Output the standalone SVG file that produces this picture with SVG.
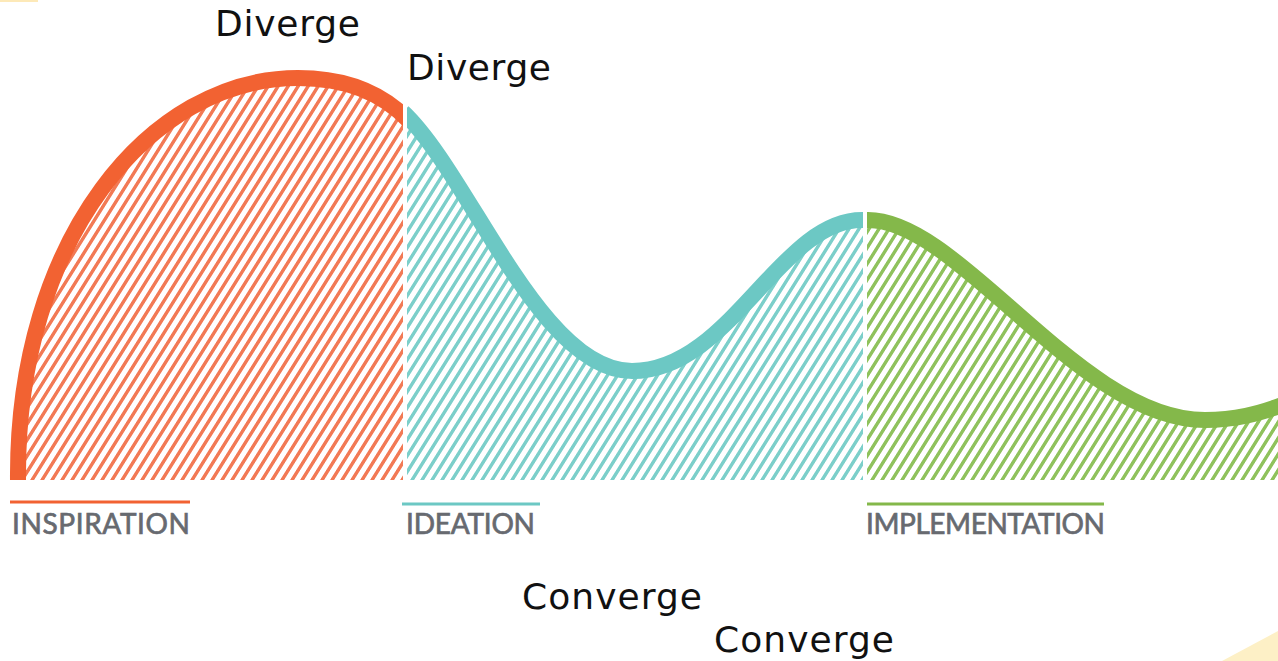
<svg xmlns="http://www.w3.org/2000/svg" width="1278" height="661" viewBox="0 0 1278 661">
<style>
.cur{fill:none;stroke-width:16;stroke-linecap:butt}
.big{font-family:"DejaVu Sans","Noto Sans",sans-serif;font-size:36px;fill:#111}
.lab{font-family:Lato,"Open Sans",sans-serif;font-size:28px;font-weight:400;fill:#676a70;stroke:#676a70;stroke-width:0.7}
</style>
<defs>
<pattern id="hO" width="10" height="200" patternUnits="userSpaceOnUse" patternTransform="skewX(-32)"><rect x="0" y="0" width="4" height="200" fill="#f27a55"/></pattern>
<pattern id="hT" width="10" height="200" patternUnits="userSpaceOnUse" patternTransform="skewX(-32)"><rect x="0" y="0" width="4" height="200" fill="#7ccfca"/></pattern>
<pattern id="hG" width="10" height="200" patternUnits="userSpaceOnUse" patternTransform="skewX(-32)"><rect x="0" y="0" width="4" height="200" fill="#8fc25c"/></pattern>
<clipPath id="cO"><rect x="0" y="0" width="403" height="480"/></clipPath>
<clipPath id="cT"><rect x="407" y="0" width="456" height="480"/></clipPath>
<clipPath id="cG"><rect x="867" y="0" width="411" height="480"/></clipPath>
</defs>
<rect width="1278" height="661" fill="#fff"/>
<polygon points="0,0 38,0 38,2 0,2" fill="#fde9b8"/>
<polygon points="1222,661 1278,631 1278,661" fill="#fdf0c6"/>
<g id="inspiration">
<g clip-path="url(#cO)">
<path d="M18,480 C16,240 150,78 298,78 C350,78 385,95 410,122 L410,480 Z" fill="url(#hO)"/>
<path class="cur" stroke="#f26232" d="M18,480 C16,240 150,78 298,78 C350,78 385,95 410,122"/>
</g>
<rect x="10" y="500.5" width="180" height="3" fill="#f26232"/>
<text class="lab" x="12" y="534" textLength="178">INSPIRATION</text>
</g>
<g id="ideation">
<g clip-path="url(#cT)">
<path d="M403,112 C470,175 540,371 632,371 C730,371 780,220 862,220 L870,220 L870,480 L403,480 Z" fill="url(#hT)"/>
<path class="cur" stroke="#6cc8c4" d="M403,112 C470,175 540,371 632,371 C730,371 780,220 862,220 L870,220"/>
</g>
<rect x="402" y="502.5" width="138" height="3" fill="#6cc8c4"/>
<text class="lab" x="406" y="534" textLength="129">IDEATION</text>
</g>
<g id="implementation">
<g clip-path="url(#cG)">
<path d="M860,220 L868,220 C960,220 1080,420 1205,420 C1235,420 1258,414 1285,404 L1285,480 L860,480 Z" fill="url(#hG)"/>
<path class="cur" stroke="#84b84a" d="M860,220 L868,220 C960,220 1080,420 1205,420 C1235,420 1258,414 1285,404"/>
</g>
<rect x="867" y="502.5" width="237" height="3" fill="#84b84a"/>
<text class="lab" x="866" y="534" textLength="239">IMPLEMENTATION</text>
</g>
<g id="annotations">
<text class="big" x="215" y="36" textLength="145">Diverge</text>
<text class="big" x="407" y="80" textLength="144">Diverge</text>
<text class="big" x="522" y="609" textLength="180">Converge</text>
<text class="big" x="714" y="652" textLength="180">Converge</text>
</g>
</svg>
